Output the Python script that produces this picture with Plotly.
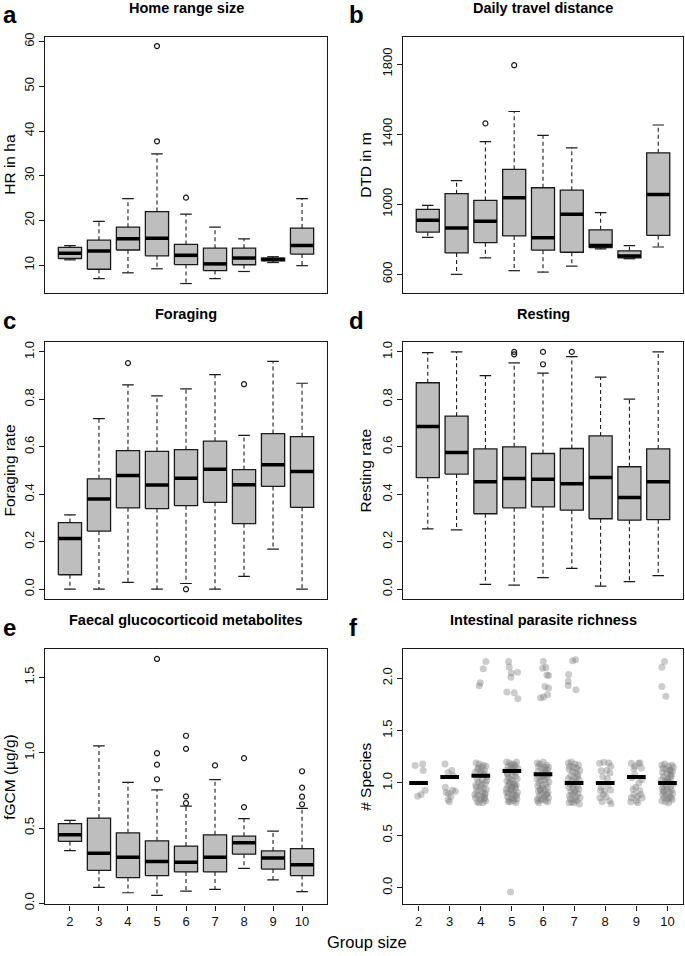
import plotly.graph_objects as go

# ---------------- data ----------------
groups = [2, 3, 4, 5, 6, 7, 8, 9, 10]

# a: Home range size (ha)
hr_lower = [11.2, 7.0, 8.3, 9.2, 5.9, 7.0, 8.6, 10.6, 9.9]
hr_q1 = [11.5, 9.1, 13.4, 12.1, 10.15, 8.8, 10.1, 11.0, 12.5]
hr_med = [12.7, 13.2, 15.9, 16.0, 12.2, 10.3, 11.6, 11.3, 14.4]
hr_q3 = [14.0, 15.6, 18.5, 22.0, 14.65, 13.8, 13.8, 11.6, 18.3]
hr_upper = [14.4, 19.8, 24.9, 34.9, 21.4, 18.5, 15.9, 11.9, 24.9]
hr_out_x = [5, 5, 6]
hr_out_y = [37.7, 59.0, 25.1]

# b: Daily travel distance (m)
dtd_lower = [811, 600, 694, 621, 613, 647, 745, 689, 756]
dtd_q1 = [841, 722, 781, 819, 738, 726, 752, 694, 822]
dtd_med = [909, 864, 903, 1037, 809, 943, 764, 705, 1056]
dtd_q3 = [971, 1060, 1022, 1199, 1094, 1080, 854, 734, 1293]
dtd_upper = [994, 1135, 1357, 1529, 1393, 1322, 952, 764, 1452]
dtd_out_x = [4, 5]
dtd_out_y = [1461, 1793]

# c: Foraging rate
for_lower = [0.0, 0.0, 0.029, 0.0, 0.024, 0.0, 0.054, 0.169, 0.0]
for_q1 = [0.061, 0.245, 0.343, 0.340, 0.352, 0.366, 0.276, 0.433, 0.345]
for_med = [0.214, 0.380, 0.479, 0.439, 0.468, 0.506, 0.440, 0.525, 0.496]
for_q3 = [0.281, 0.465, 0.584, 0.581, 0.588, 0.624, 0.504, 0.656, 0.643]
for_upper = [0.313, 0.719, 0.861, 0.815, 0.844, 0.904, 0.648, 0.960, 0.868]
for_out_x = [4, 6, 8]
for_out_y = [0.953, 0.0, 0.864]

# d: Resting rate
res_lower = [0.254, 0.250, 0.020, 0.017, 0.049, 0.088, 0.013, 0.032, 0.057]
res_q1 = [0.470, 0.485, 0.318, 0.343, 0.347, 0.333, 0.297, 0.291, 0.293]
res_med = [0.686, 0.576, 0.453, 0.467, 0.463, 0.444, 0.471, 0.386, 0.453]
res_q3 = [0.870, 0.729, 0.591, 0.600, 0.572, 0.593, 0.646, 0.516, 0.591]
res_upper = [0.997, 1.0, 0.900, 0.954, 0.911, 0.980, 0.894, 0.801, 1.0]
res_out_x = [5, 5, 6, 6, 7]
res_out_y = [1.0, 0.99, 1.0, 0.948, 1.0]

# e: fGCM (ug/g)
gc_lower = [0.350, 0.105, 0.070, 0.052, 0.081, 0.092, 0.232, 0.155, 0.077]
gc_q1 = [0.411, 0.219, 0.171, 0.184, 0.208, 0.208, 0.326, 0.227, 0.184]
gc_med = [0.455, 0.332, 0.306, 0.278, 0.273, 0.306, 0.402, 0.300, 0.256]
gc_q3 = [0.529, 0.566, 0.468, 0.415, 0.380, 0.455, 0.446, 0.348, 0.363]
gc_upper = [0.551, 1.045, 0.803, 0.754, 0.645, 0.822, 0.562, 0.479, 0.630]
gc_out_x = [5, 5, 5, 5, 6, 6, 6, 6, 7, 8, 8, 10, 10, 10, 10]
gc_out_y = [0.824, 0.921, 0.997, 1.623, 0.665, 0.710, 1.026, 1.113, 0.916,
            0.639, 0.964, 0.658, 0.708, 0.768, 0.877]

# f: Intestinal parasite richness (jittered observations + medians)
par_med = [1.0, 1.057, 1.069, 1.113, 1.082, 1.0, 1.0, 1.057, 1.0]

g2_x = [1.89, 2.13, 2.15, 2.21, 1.97, 2.08]
g2_y = [1.167, 1.182, 1.119, 0.931, 0.874, 0.890]

g3_x = [2.85, 2.86, 2.89, 2.97, 3.09, 3.18, 2.95, 2.99, 3.04, 2.95, 3.07, 3.12]
g3_y = [1.18, 0.96, 0.91, 0.90, 0.93, 0.92, 0.84, 0.82, 0.87, 1.10, 1.12, 1.07]

g4_x = [3.85, 3.95, 4.08, 4.17, 3.90, 4.02, 4.12, 3.82, 3.98, 4.10,
        4.19, 3.88, 4.05, 3.93, 4.15, 3.84, 4.00, 4.09, 3.96, 4.18,
        3.87, 4.06, 4.13, 3.91, 4.03, 3.83, 4.11, 3.99, 4.16, 3.89,
        4.07, 3.94, 4.14, 3.86, 4.01, 4.19, 3.92, 4.04, 3.81, 4.12,
        4.165, 4.079, 3.983, 3.951]
g4_y = [1.19, 1.18, 1.17, 1.16, 1.13, 1.15, 1.12, 1.10, 1.08, 1.09,
        1.06, 1.04, 1.03, 1.01, 1.00, 0.98, 0.97, 0.95, 0.93, 0.94,
        0.92, 0.91, 0.89, 0.88, 0.87, 0.86, 0.85, 0.84, 0.83, 0.82,
        0.81, 0.81, 0.90, 0.96, 1.11, 1.02, 1.14, 0.99, 0.89, 0.86,
        2.160, 2.091, 1.956, 1.928]

g5_x = [4.83, 4.92, 5.04, 5.15, 4.88, 4.98, 5.09, 5.19, 4.81, 4.95,
        5.06, 5.13, 4.86, 5.01, 5.11, 4.90, 4.97, 5.17, 4.84, 5.03,
        5.08, 4.93, 5.14, 4.87, 5.00, 5.12, 4.82, 4.96, 5.05, 5.18,
        4.89, 5.02, 5.10, 4.85, 4.99, 5.16, 4.91, 5.07, 4.94, 5.13,
        4.88, 5.04, 5.15, 4.83, 4.97, 5.09, 4.86, 5.01, 5.11, 4.92,
        4.893, 4.914, 4.979, 5.182, 4.968, 4.839, 5.075, 5.193, 4.958]
g5_y = [1.20, 1.19, 1.18, 1.20, 1.16, 1.17, 1.15, 1.14, 1.12, 1.13,
        1.11, 1.10, 1.08, 1.07, 1.06, 1.05, 1.03, 1.04, 1.02, 1.00,
        0.99, 1.01, 0.98, 0.97, 0.96, 0.95, 0.94, 0.93, 0.92, 0.91,
        0.90, 0.89, 0.88, 0.87, 0.86, 0.85, 0.84, 0.83, 0.82, 0.81,
        0.82, 0.85, 0.88, 0.91, 0.94, 0.97, 1.09, 1.13, 1.17, 0.99,
        2.160, 2.107, 2.050, 2.057, 2.009, 1.868, 1.862, 1.805, -0.040]

g6_x = [5.82, 5.90, 6.01, 6.12, 6.18, 5.86, 5.95, 6.06, 6.15, 5.84,
        5.99, 6.09, 6.17, 5.88, 6.03, 6.13, 5.81, 5.93, 6.05, 6.19,
        5.87, 5.97, 6.10, 5.83, 6.00, 6.14, 5.91, 6.07, 6.16, 5.85,
        5.96, 6.11, 5.89, 6.04, 6.18, 5.82, 5.94, 6.08, 6.15, 5.86,
        6.02, 6.12, 5.92, 5.98, 6.06, 5.84,
        6.008, 5.986, 6.093, 6.125, 6.179, 6.061, 6.179, 6.147, 5.922, 6.018]
g6_y = [1.19, 1.18, 1.20, 1.17, 1.15, 1.16, 1.14, 1.13, 1.12, 1.11,
        1.09, 1.10, 1.08, 1.06, 1.07, 1.05, 1.04, 1.02, 1.03, 1.01,
        1.00, 0.98, 0.99, 0.97, 0.95, 0.96, 0.94, 0.93, 0.91, 0.92,
        0.90, 0.89, 0.88, 0.87, 0.86, 0.85, 0.84, 0.83, 0.82, 0.81,
        0.85, 0.89, 0.93, 1.06, 1.15, 0.83,
        2.160, 2.094, 2.101, 2.031, 2.025, 1.921, 1.906, 1.843, 1.814, 1.821]

g7_x = [6.82, 6.91, 7.03, 7.14, 6.86, 6.97, 7.08, 7.18, 6.84, 6.95,
        7.05, 7.12, 6.89, 7.00, 7.10, 6.81, 6.93, 7.06, 7.16, 6.87,
        6.98, 7.11, 6.83, 6.96, 7.04, 7.15, 6.90, 7.01, 7.13, 6.85,
        6.94, 7.07, 7.19, 6.88, 7.02, 7.09, 6.92, 6.99, 7.17, 6.84,
        6.951, 7.047, 6.822, 6.811, 6.811, 7.058]
g7_y = [1.19, 1.20, 1.18, 1.17, 1.16, 1.15, 1.14, 1.12, 1.13, 1.11,
        1.10, 1.08, 1.07, 1.05, 1.06, 1.04, 1.02, 1.01, 1.03, 0.99,
        0.98, 0.97, 0.96, 0.95, 0.93, 0.94, 0.92, 0.91, 0.90, 0.88,
        0.89, 0.87, 0.86, 0.85, 0.84, 0.83, 0.82, 0.81, 0.80, 0.81,
        2.167, 2.176, 2.035, 1.972, 1.931, 1.890]

g8_x = [7.82, 7.96, 7.87, 8.15, 8.07, 7.87, 7.98, 8.09, 7.94, 8.03,
        8.14, 8.19, 7.85, 8.12, 8.18, 7.92, 8.05, 7.83, 8.17, 7.90]
g8_y = [1.189, 1.198, 1.116, 1.094, 1.041, 0.959, 0.921, 0.978, 0.890, 0.865,
        0.827, 0.802, 0.928, 1.19, 1.16, 1.06, 1.12, 0.86, 0.93, 0.82]

g9_x = [8.84, 9.07, 8.92, 9.16, 8.95, 9.18, 8.98, 9.11, 8.92, 9.14,
        8.84, 9.00, 9.05, 8.86, 9.12, 8.90, 9.08, 8.82, 9.19, 8.95, 9.03]
g9_y = [1.189, 1.189, 1.135, 1.142, 1.079, 1.031, 0.959, 0.928, 0.890, 0.890,
        0.858, 0.827, 0.811, 1.05, 1.19, 0.94, 1.00, 0.82, 0.86, 1.16, 0.87]

g10_x = [9.82, 9.91, 10.03, 10.14, 10.19, 9.86, 9.96, 10.07, 10.16, 9.84,
         9.98, 10.09, 10.12, 9.88, 10.01, 10.11, 9.81, 9.93, 10.05, 10.18,
         9.87, 9.97, 10.10, 9.83, 9.99, 10.13, 9.90, 10.06, 10.17, 9.85,
         9.95, 10.08, 9.89, 10.02, 10.15, 9.82, 9.94, 10.04, 10.12, 9.86,
         10.00, 10.10,
         9.906, 9.820, 9.820, 9.949]
g10_y = [1.17, 1.18, 1.16, 1.17, 1.15, 1.14, 1.13, 1.12, 1.11, 1.10,
         1.09, 1.08, 1.07, 1.06, 1.04, 1.05, 1.03, 1.02, 1.01, 0.99,
         0.98, 0.97, 0.96, 0.95, 0.94, 0.93, 0.92, 0.91, 0.90, 0.89,
         0.88, 0.87, 0.86, 0.85, 0.84, 0.83, 0.82, 0.81, 0.86, 0.92,
         1.02, 1.12,
         2.160, 2.104, 1.921, 1.827]

titles = ["Home range size", "Daily travel distance", "Foraging", "Resting",
          "Faecal glucocorticoid metabolites", "Intestinal parasite richness"]
letters = ["a", "b", "c", "d", "e", "f"]
ylabels = ["HR in ha", "DTD in m", "Foraging rate", "Resting rate",
           "fGCM (µg/g)", "# Species"]
xlabel = "Group size"

# ---------------- layout geometry ----------------
W, H = 685, 956
FONT = "Liberation Sans, Arial, Helvetica, sans-serif"
FRAME = "#1a1a1a"
BOXFILL = "#bebebe"

frames = {  # left, right, top, bottom (pixels)
    1: (45, 327, 33, 292), 2: (403, 683, 33, 292),
    3: (45, 327, 342, 601), 4: (403, 683, 342, 601),
    5: (45, 327, 652, 910), 6: (403, 683, 652, 910),
}

fig = go.Figure()


def ax_ref(i):
    return ("x" if i == 1 else f"x{i}"), ("y" if i == 1 else f"y{i}")


def add_boxplot(i, lower, q1, med, q3, upper, out_x, out_y):
    xr, yr = ax_ref(i)
    hw, cw = 0.4, 0.2
    wx, wy, bx, by, mx, my, cx, cy = [], [], [], [], [], [], [], []
    for g, lo, a, m, b, up in zip(groups, lower, q1, med, q3, upper):
        wx += [g, g, None, g, g, None]
        wy += [b, up, None, a, lo, None]
        bx += [g - hw, g + hw, g + hw, g - hw, g - hw, None]
        by += [a, a, b, b, a, None]
        mx += [g - hw, g + hw, None]
        my += [m, m, None]
        cx += [g - cw, g + cw, None, g - cw, g + cw, None]
        cy += [up, up, None, lo, lo, None]
    common = dict(xaxis=xr, yaxis=yr, showlegend=False, hoverinfo="skip")
    fig.add_trace(go.Scatter(x=wx, y=wy, mode="lines",
                             line=dict(color=FRAME, width=1.1, dash="4px,3px"), **common))
    fig.add_trace(go.Scatter(x=cx, y=cy, mode="lines",
                             line=dict(color=FRAME, width=1.2), **common))
    fig.add_trace(go.Scatter(x=bx, y=by, mode="lines", fill="toself",
                             fillcolor=BOXFILL, line=dict(color=FRAME, width=1.3), **common))
    fig.add_trace(go.Scatter(x=mx, y=my, mode="lines",
                             line=dict(color="#000000", width=3.5), **common))
    fig.add_trace(go.Scatter(x=out_x, y=out_y, mode="markers",
                             marker=dict(symbol="circle-open", size=5, color=FRAME,
                                         line=dict(width=1.2, color=FRAME)), **common))


add_boxplot(1, hr_lower, hr_q1, hr_med, hr_q3, hr_upper, hr_out_x, hr_out_y)
add_boxplot(2, dtd_lower, dtd_q1, dtd_med, dtd_q3, dtd_upper, dtd_out_x, dtd_out_y)
add_boxplot(3, for_lower, for_q1, for_med, for_q3, for_upper, for_out_x, for_out_y)
add_boxplot(4, res_lower, res_q1, res_med, res_q3, res_upper, res_out_x, res_out_y)
add_boxplot(5, gc_lower, gc_q1, gc_med, gc_q3, gc_upper, gc_out_x, gc_out_y)

# panel f
px = g2_x + g3_x + g4_x + g5_x + g6_x + g7_x + g8_x + g9_x + g10_x
py = g2_y + g3_y + g4_y + g5_y + g6_y + g7_y + g8_y + g9_y + g10_y
fig.add_trace(go.Scatter(x=px, y=py, mode="markers", xaxis="x6", yaxis="y6",
                         marker=dict(size=7, color="rgba(120,120,120,0.38)", line=dict(width=0)),
                         showlegend=False, hoverinfo="skip"))
lx, ly = [], []
for g, m in zip(groups, par_med):
    lx += [g - 0.3, g + 0.3, None]
    ly += [m, m, None]
fig.add_trace(go.Scatter(x=lx, y=ly, mode="lines", xaxis="x6", yaxis="y6",
                         line=dict(color="#000000", width=4),
                         showlegend=False, hoverinfo="skip"))

# axes
yranges = {1: [3.8, 61.1], 2: [494, 1956], 3: [-0.04, 1.04], 4: [-0.04, 1.04],
           5: [-0.008, 1.688], 6: [-0.16, 2.277]}
yticks = {1: [10, 20, 30, 40, 50, 60], 2: [600, 1000, 1400, 1800],
          3: [0, 0.2, 0.4, 0.6, 0.8, 1.0], 4: [0, 0.2, 0.4, 0.6, 0.8, 1.0],
          5: [0, 0.5, 1.0, 1.5], 6: [0, 0.5, 1.0, 1.5, 2.0]}
yfmt = {1: "d", 2: "d", 3: ".1f", 4: ".1f", 5: ".1f", 6: ".1f"}
xranges = {i: [1.14, 10.86] for i in range(1, 6)}
xranges[6] = [1.5, 10.5]

tickfont = dict(family=FONT, size=13, color="#111")
for i, (l, r, t, b) in frames.items():
    xk = "xaxis" if i == 1 else f"xaxis{i}"
    yk = "yaxis" if i == 1 else f"yaxis{i}"
    xr, yr = ax_ref(i)
    show_x = i in (5, 6)
    fig.layout[xk] = dict(domain=[l / W, r / W], range=xranges[i], anchor=yr,
                          showline=True, mirror=True, linecolor=FRAME, linewidth=1.2,
                          showgrid=False, zeroline=False,
                          ticks="outside" if show_x else "", ticklen=5, tickcolor=FRAME,
                          tickvals=groups, showticklabels=show_x, tickfont=tickfont)
    fig.layout[yk] = dict(domain=[1 - b / H, 1 - t / H], range=yranges[i], anchor=xr,
                          showline=True, mirror=True, linecolor=FRAME, linewidth=1.2,
                          showgrid=False, zeroline=False, ticks="outside", ticklen=5,
                          tickcolor=FRAME, tickvals=yticks[i], tickformat=yfmt[i],
                          tickangle=-90, tickfont=tickfont)

ann = []
for i, (l, r, t, b) in frames.items():
    ann.append(dict(text=f"<b>{titles[i-1]}</b>", x=(l + r) / 2 / W, y=1 - (t - 29) / H,
                    xref="paper", yref="paper", xanchor="center", yanchor="middle",
                    showarrow=False, font=dict(family=FONT, size=14.5, color="#000")))
    lxp = 1 if l < 100 else 347
    ann.append(dict(text=f"<b>{letters[i-1]}</b>", x=lxp / W, y=1 - (t - 22) / H,
                    xref="paper", yref="paper", xanchor="left", yanchor="middle",
                    showarrow=False, font=dict(family=FONT, size=24, color="#000")))
    ylx = 10 if l < 100 else 366
    ann.append(dict(text=ylabels[i-1], x=ylx / W, y=1 - (t + b) / 2 / H, textangle=-90,
                    xref="paper", yref="paper", xanchor="center", yanchor="middle",
                    showarrow=False, font=dict(family=FONT, size=15.5, color="#000")))
ann.append(dict(text=xlabel, x=367 / W, y=1 - 948 / H, xref="paper", yref="paper",
                xanchor="center", yanchor="middle", showarrow=False,
                font=dict(family=FONT, size=16.5, color="#000")))

fig.update_layout(width=W, height=H, margin=dict(l=0, r=0, t=0, b=0),
                  paper_bgcolor="white", plot_bgcolor="white",
                  annotations=ann, showlegend=False)

fig.write_html("out.html",
               config={"displayModeBar": False},
               post_script="document.body.style.margin='0';"
                           "document.body.style.overflow='hidden';")
